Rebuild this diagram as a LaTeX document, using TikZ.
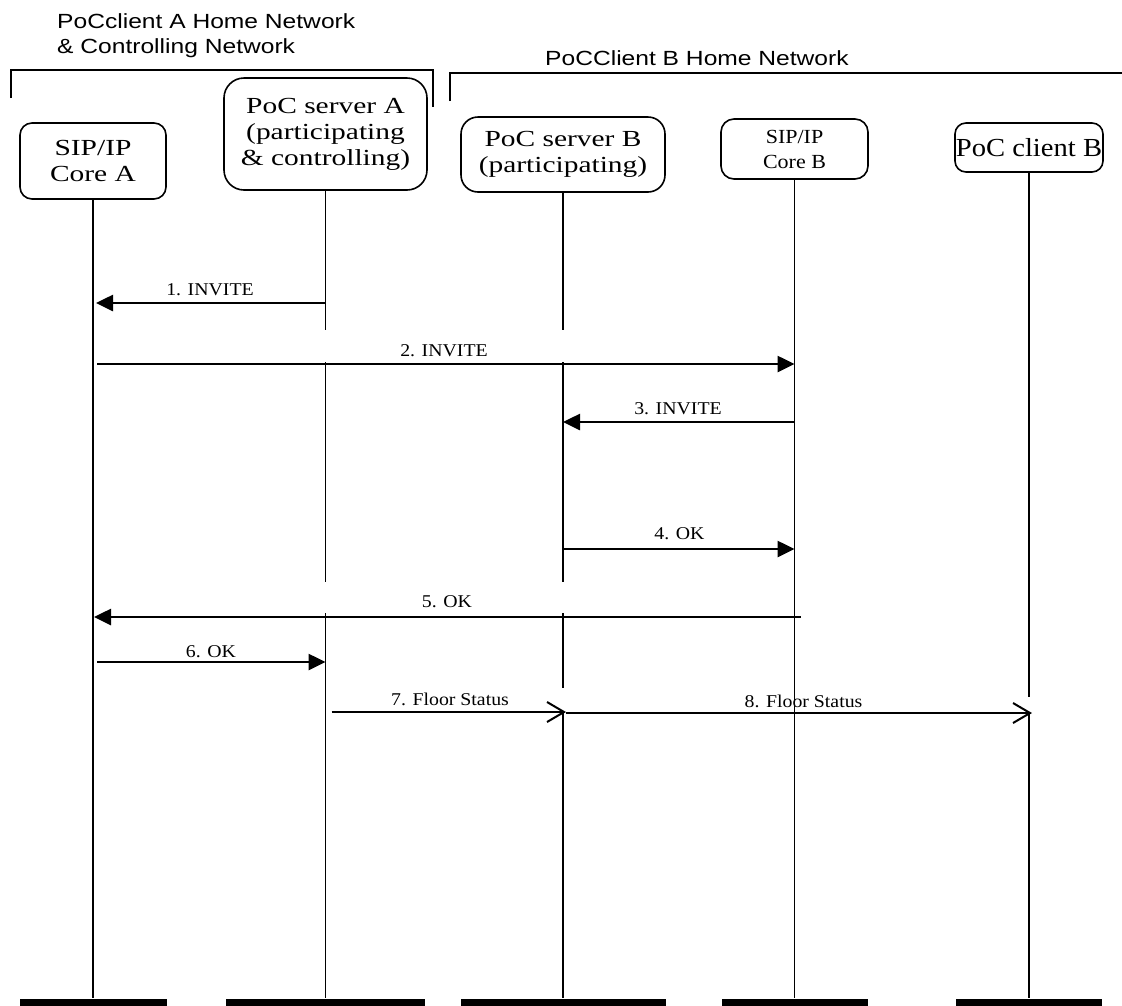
\documentclass[tikz,border=0pt]{standalone}
\usepackage{fontspec}
\setmainfont{Liberation Serif}
\newfontfamily\boxfont[FakeStretch=1.28]{Liberation Serif}
\newfontfamily\lblfont[FakeStretch=1.1]{Liberation Serif}
\newfontfamily\titlefont[FakeStretch=1.2]{Liberation Sans}
\usetikzlibrary{arrows.meta}

\begin{document}
\begin{tikzpicture}[x=1pt,y=-1pt,
  entity/.style={draw, line width=1.6pt, inner sep=0pt, align=center,
    font=\boxfont\fontsize{23}{26}\selectfont},
  endbar/.style={fill=black, inner sep=0pt, minimum height=7pt},
  lifeline/.style={line width=1.5pt},
  msg/.style={line width=2.6pt, -{Triangle[length=17pt,width=16pt]}},
  openmsg/.style={line width=2pt, -{Straight Barb[length=17pt,width=20pt,line width=2pt]}},
  msglabel/.style={font=\lblfont\fontsize{18}{20}\selectfont, inner sep=0pt, anchor=base},
  nettitle/.style={font=\titlefont\fontsize{20.5}{24}\selectfont, inner sep=0pt, anchor=base west},
  bracket/.style={line width=1.5pt}
]
\useasboundingbox (0,0) rectangle (1122,1005);
\fill[white] (0,0) rectangle (1122,1005);

% network titles and brackets
\node[nettitle] (titleA1) at (57,28) {PoCclient A Home Network};
\node[nettitle] (titleA2) at (57,53) {\& Controlling Network};
\node[nettitle] (titleB) at (545,65) {PoCClient B Home Network};
\draw[bracket] (11,98) -- (11,70) -- (433,70) -- (433,107);
\draw[bracket] (450,101) -- (450,73) -- (1122,73);

% entities
\node[entity, rounded corners=12pt, minimum width=146pt, minimum height=76pt] (coreA) at (93,161) {SIP/IP\\Core A};
\node[entity, rounded corners=20pt, minimum width=203pt, minimum height=112pt] (servA) at (325.5,134) {PoC server A\\(participating\\\& controlling)};
\node[entity, rounded corners=17pt, minimum width=204pt, minimum height=75pt] (servB) at (563,154.5) {PoC server B\\(participating)};
\node[entity, rounded corners=13pt, minimum width=147pt, minimum height=60pt,
  font=\lblfont\fontsize{20}{25}\selectfont] (coreB) at (794.5,149) {SIP/IP\\Core B};
\node[entity, rounded corners=11pt, minimum width=148pt, minimum height=49pt,
  font=\lblfont\fontsize{26}{28}\selectfont] (clientB) at (1029,147.5) {PoC client B};

% end bars
\node[endbar, minimum width=147pt] (coreAend) at (93,1002) {};
\node[endbar, minimum width=199pt] (servAend) at (325.5,1002) {};
\node[endbar, minimum width=205pt] (servBend) at (563,1002) {};
\node[endbar, minimum width=146pt] (coreBend) at (794.5,1002) {};
\node[endbar, minimum width=146pt] (clientBend) at (1029,1002) {};

% lifelines
\draw[lifeline] (coreA.south) -- (coreAend.north);
\draw[lifeline] (coreB.south) -- (coreBend.north);
\draw[lifeline] (servA.south) -- (servA.south |- 0,330);
\draw[lifeline] (servA.south |- 0,362) -- (servA.south |- 0,582);
\draw[lifeline] (servA.south |- 0,613) -- (servAend.north);
\draw[lifeline] (servB.south) -- (servB.south |- 0,330);
\draw[lifeline] (servB.south |- 0,362) -- (servB.south |- 0,582);
\draw[lifeline] (servB.south |- 0,613) -- (servB.south |- 0,688);
\draw[lifeline] (servB.south |- 0,712) -- (servBend.north);
\draw[lifeline] (clientB.south) -- (clientB.south |- 0,697);
\draw[lifeline] (clientB.south |- 0,713) -- (clientBend.north);

% messages
\draw[msg] (servA.south |- 0,303) -- ([xshift=3pt]coreA.south |- 0,303);
\node[msglabel] (m1) at (210,295) {1. INVITE};
\draw[msg] ([xshift=4pt]coreA.south |- 0,364) -- (coreB.south |- 0,364);
\node[msglabel] (m2) at (444,356) {2. INVITE};
\draw[msg] (coreB.south |- 0,422) -- (servB.south |- 0,422);
\node[msglabel] (m3) at (678,414) {3. INVITE};
\draw[msg] (servB.south |- 0,549) -- (coreB.south |- 0,549);
\node[msglabel] (m4) at (679.5,539) {4. OK};
\draw[msg] ([xshift=6pt]coreB.south |- 0,617) -- ([xshift=1pt]coreA.south |- 0,617);
\node[msglabel] (m5) at (447,607) {5. OK};
\draw[msg] ([xshift=4pt]coreA.south |- 0,662) -- (servA.south |- 0,662);
\node[msglabel] (m6) at (211,657) {6. OK};
\draw[openmsg] ([xshift=6pt]servA.south |- 0,712) -- ([xshift=3pt]servB.south |- 0,712);
\node[msglabel] (m7) at (450,705) {7. Floor Status};
\draw[openmsg] ([xshift=3pt]servB.south |- 0,713) -- ([xshift=3pt]clientB.south |- 0,713);
\node[msglabel] (m8) at (803.5,707) {8. Floor Status};
\end{tikzpicture}
\end{document}
